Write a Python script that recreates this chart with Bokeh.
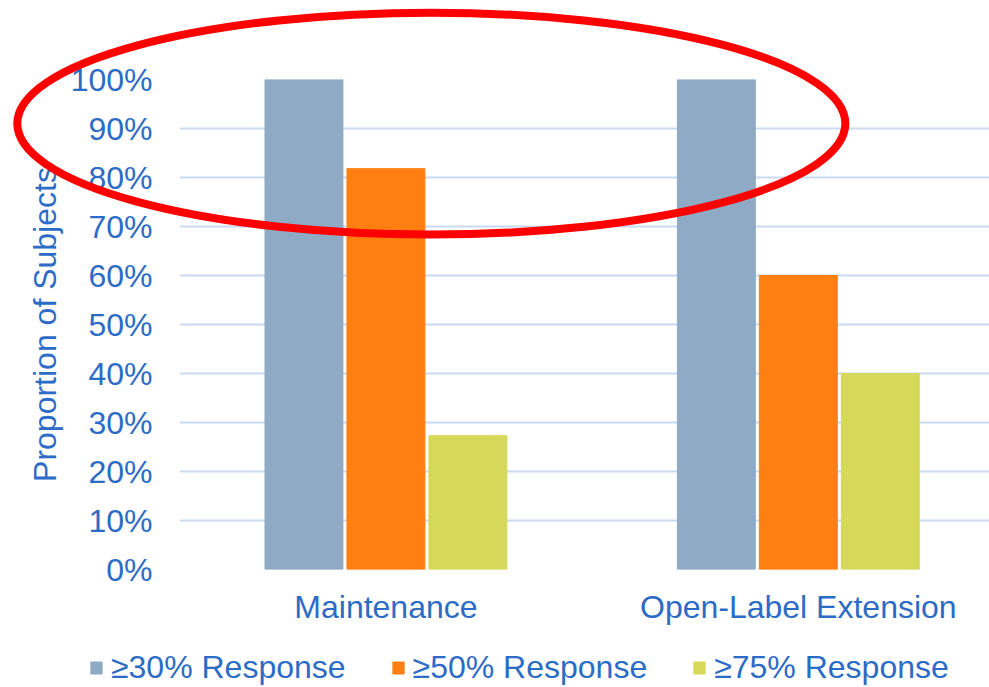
from bokeh.plotting import figure
from bokeh.models import (Range1d, FixedTicker, NumeralTickFormatter, Legend,
                          LegendItem, ColumnDataSource)
from bokeh.transform import dodge
from bokeh.embed import file_html
from bokeh.resources import INLINE

# ---- data ----
categories = ["Maintenance", "Open-Label Extension"]
series_names = ["≥30% Response", "≥50% Response", "≥75% Response"]
resp30 = [1.000, 1.000]
resp50 = [0.818, 0.600]
resp75 = [0.273, 0.400]
y_tick_values = [0.0, 0.1, 0.2, 0.3, 0.4, 0.5, 0.6, 0.7, 0.8, 0.9, 1.0]
y_axis_title = "Proportion of Subjects"

# ---- style ----
colors = ["#8EAAC5", "#FF7F11", "#D6D85A"]
TEXT = "#2C6CC6"
GRID = "#C8DAF0"
FONT = "Liberation Sans"
FS = "32px"

W, H = 989, 687
FL, FT, FB = 179, 79, 569          # frame left / top / bottom in pixels
X0, X1 = -0.5006, 1.4636           # x range of main frame
Y0, Y1 = 0.0, 1.0

cat_pos = list(range(len(categories)))
source = ColumnDataSource(dict(x=cat_pos, r30=resp30, r50=resp50, r75=resp75))

p = figure(width=W, height=H, output_backend="svg", toolbar_location=None,
           x_range=Range1d(X0, X1), y_range=Range1d(Y0, Y1),
           min_border_left=FL, min_border_right=0, min_border_top=FT,
           min_border_bottom=H - FB)
p.outline_line_color = None
p.background_fill_color = "white"
p.border_fill_color = "white"

bar_w = 0.189
step = 0.1988
value_cols = ["r30", "r50", "r75"]
for i, (col, c) in enumerate(zip(value_cols, colors)):
    p.vbar(x=dodge("x", (i - 1) * step, range=p.x_range), top=col, bottom=0,
           width=bar_w, source=source, fill_color=c, line_color=c, line_width=1)

# grid
p.xgrid.grid_line_color = None
p.ygrid.grid_line_color = GRID
p.ygrid.grid_line_width = 2
p.ygrid.ticker = FixedTicker(ticks=y_tick_values)

# y axis
p.yaxis.ticker = FixedTicker(ticks=y_tick_values)
p.yaxis.formatter = NumeralTickFormatter(format="0%")
p.yaxis.axis_line_color = None
p.yaxis.major_tick_line_color = None
p.yaxis.minor_tick_line_color = None
p.yaxis.major_tick_out = 0
p.yaxis.major_label_standoff = 27
p.yaxis.major_label_text_font = FONT
p.yaxis.major_label_text_font_size = FS
p.yaxis.major_label_text_color = TEXT
p.yaxis.axis_label = y_axis_title
p.yaxis.axis_label_text_font = FONT
p.yaxis.axis_label_text_font_size = FS
p.yaxis.axis_label_text_font_style = "normal"
p.yaxis.axis_label_text_color = TEXT
p.yaxis.axis_label_standoff = 5

# x axis
p.xaxis.ticker = FixedTicker(ticks=cat_pos)
p.xaxis.major_label_overrides = {i: c for i, c in zip(cat_pos, categories)}
p.xaxis.axis_line_color = None
p.xaxis.major_tick_line_color = None
p.xaxis.minor_tick_line_color = None
p.xaxis.major_tick_out = 0
p.xaxis.major_label_standoff = 19
p.xaxis.major_label_text_font = FONT
p.xaxis.major_label_text_font_size = FS
p.xaxis.major_label_text_color = TEXT

# ---- transparent overlay figure covering the whole page (same data scale) ----
ppx = (W - FL) / (X1 - X0)          # pixels per x unit
ppy = (FB - FT) / (Y1 - Y0)         # pixels per y unit
ox0 = X0 - FL / ppx
oy0 = Y0 - (H - FB) / ppy
oy1 = Y1 + FT / ppy

q = figure(width=W, height=H, output_backend="svg", toolbar_location=None,
           x_range=Range1d(ox0, X1), y_range=Range1d(oy0, oy1),
           x_axis_location=None, y_axis_location=None,
           min_border=0, min_border_left=0, min_border_right=0,
           min_border_top=0, min_border_bottom=0)
q.grid.visible = False
q.outline_line_color = None
q.background_fill_alpha = 0
q.border_fill_alpha = 0
q.styles = {"position": "absolute", "top": "0px", "left": "0px", "pointer-events": "none"}

# legend swatches: hidden copies of the bar renderers, used only by the legend
legend_rs = []
for i, (col, c) in enumerate(zip(value_cols, colors)):
    r = q.vbar(x=dodge("x", (i - 1) * step, range=q.x_range), top=col, bottom=0,
               width=bar_w, source=source, fill_color=c, line_color=c, visible=False)
    legend_rs.append(r)

legend = Legend(items=[LegendItem(label=n, renderers=[r]) for n, r in zip(series_names, legend_rs)],
                orientation="horizontal", location=(89, 1),
                glyph_width=14, glyph_height=15, label_standoff=8, spacing=45,
                padding=0, margin=0, border_line_color=None, background_fill_alpha=0,
                inactive_fill_alpha=0,
                label_text_font=FONT, label_text_font_size=FS, label_text_color=TEXT)
q.add_layout(legend)

# red highlight ellipse
ell_cx, ell_cy, ell_w, ell_h = 0.110, 0.910, 2.008, 0.453
q.ellipse(x=[ell_cx], y=[ell_cy], width=[ell_w], height=[ell_h],
          fill_alpha=0, line_color="#FF0000", line_width=8)

open("out.html", "w").write(file_html([p, q], INLINE))
